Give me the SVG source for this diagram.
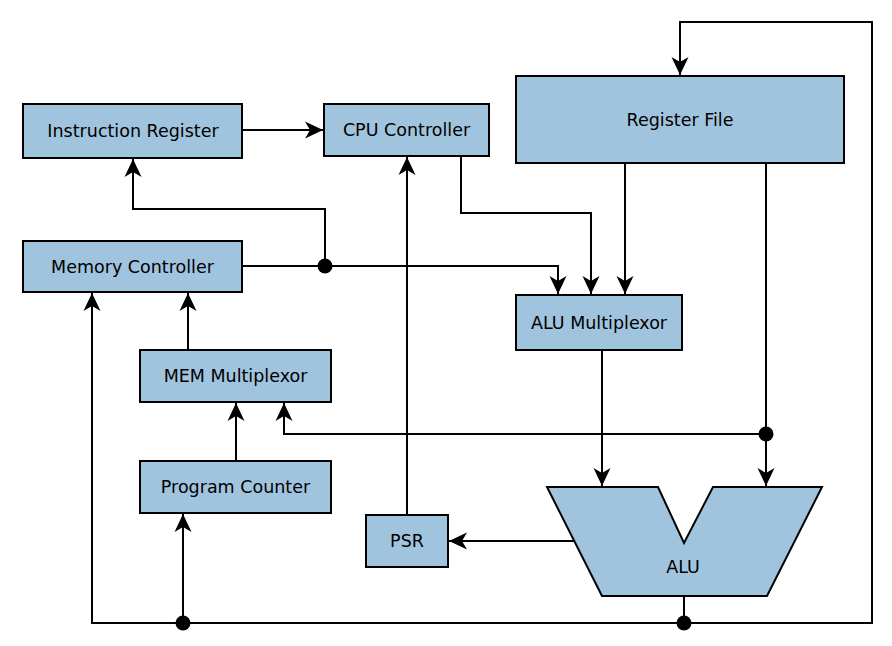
<svg xmlns="http://www.w3.org/2000/svg" width="892" height="646" viewBox="0 0 892 646">
<style>
.box{fill:#a1c4de;stroke:#000;stroke-width:2}
.lbl{font-family:"DejaVu Sans",sans-serif;font-size:17.5px;fill:#000;text-anchor:middle}
.ln{fill:none;stroke:#000;stroke-width:2}
.arr{marker-end:url(#ah)}
.dot{fill:#000}
</style>
<defs>
<marker id="ah" markerUnits="userSpaceOnUse" viewBox="-20 -10 22 20" markerWidth="22" markerHeight="20" refX="0" refY="0" orient="auto">
<path d="M0,0 L-18,-8.5 L-13,0 L-18,8.5 Z" fill="#000"/>
</marker>
</defs>
<rect width="892" height="646" fill="#fff"/>
<g id="connectors">
<path class="ln arr" d="M242,130 H323"/>
<path class="ln arr" d="M325,266 V209 H133 V159"/>
<path class="ln arr" d="M242,266 H558 V294"/>
<path class="ln arr" d="M461,157 V213 H591 V294"/>
<path class="ln arr" d="M625,162 V294"/>
<path class="ln arr" d="M766,164 V486"/>
<path class="ln arr" d="M766,434 H284 V403"/>
<path class="ln arr" d="M602,350 V486"/>
<path class="ln arr" d="M574,541 H449"/>
<path class="ln arr" d="M407,515 V157"/>
<path class="ln" d="M684,596 V623"/>
<path class="ln arr" d="M684,623 H872 V22 H680 V75"/>
<path class="ln arr" d="M684,623 H92 V293"/>
<path class="ln arr" d="M183,623 V514"/>
<path class="ln arr" d="M236,461 V403"/>
<path class="ln arr" d="M188,350 V293"/>
<circle class="dot" cx="325" cy="266" r="7.5"/>
<circle class="dot" cx="766" cy="434" r="7.5"/>
<circle class="dot" cx="183" cy="623" r="7.5"/>
<circle class="dot" cx="684" cy="623" r="7.5"/>
</g>
<g id="instruction-register">
<rect class="box" x="23" y="104" width="219" height="54"/>
<text class="lbl" x="133" y="137">Instruction Register</text>
</g>
<g id="cpu-controller">
<rect class="box" x="324" y="104" width="165" height="52"/>
<text class="lbl" x="406.5" y="136">CPU Controller</text>
</g>
<g id="register-file">
<rect class="box" x="516" y="76" width="328" height="87"/>
<text class="lbl" x="680" y="126">Register File</text>
</g>
<g id="memory-controller">
<rect class="box" x="23" y="241" width="219" height="51"/>
<text class="lbl" x="132.5" y="273">Memory Controller</text>
</g>
<g id="alu-multiplexor">
<rect class="box" x="516" y="295" width="166" height="55"/>
<text class="lbl" x="599" y="329">ALU Multiplexor</text>
</g>
<g id="mem-multiplexor">
<rect class="box" x="140" y="350" width="191" height="52"/>
<text class="lbl" x="235.5" y="382">MEM Multiplexor</text>
</g>
<g id="program-counter">
<rect class="box" x="140" y="461" width="191" height="52"/>
<text class="lbl" x="235.5" y="493">Program Counter</text>
</g>
<g id="psr">
<rect class="box" x="366" y="515" width="82" height="52"/>
<text class="lbl" x="407" y="547">PSR</text>
</g>
<g id="alu">
<polygon class="box" points="547,487 658,487 684,543 713,487 822,487 767,596 602,596"/>
<text class="lbl" x="683" y="573">ALU</text>
</g>
</svg>
